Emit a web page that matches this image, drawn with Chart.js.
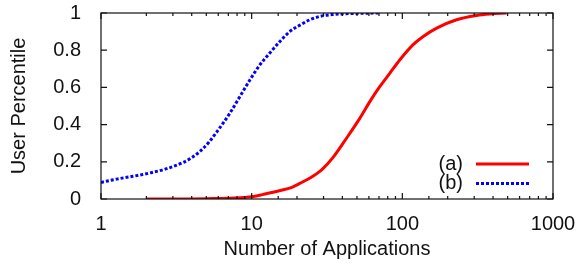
<!DOCTYPE html>
<html lang="en">
<head>
  <meta charset="UTF-8" />
  <title>User Percentile vs Number of Applications</title>
  <script src="https://cdn.jsdelivr.net/npm/chart.js"></script>
  <style>
    html, body {
      margin: 0;
      padding: 0;
      background: #ffffff;
    }
    #wrap {
      width: 579px;
      height: 265px;
    }
  </style>
</head>
<body>
  <div id="wrap"><canvas id="cdfChart"></canvas></div>

  <script>
    // (a) red solid
    const appsA = [2, 5, 8.4, 10.25, 12, 13.9, 16, 18.5, 21, 24.4, 29, 34.8, 42.7, 52.3, 61, 71, 82.7, 96.4, 118, 137.6, 169, 229, 311, 381, 492];
    const pctA  = [0, 0.002, 0.007, 0.014, 0.025, 0.036, 0.048, 0.063, 0.085, 0.113, 0.155, 0.225, 0.328, 0.435, 0.525, 0.605, 0.677, 0.749, 0.83, 0.874, 0.919, 0.964, 0.987, 0.995, 1.0];

    // (b) blue dotted
    const appsB = [1, 1.27, 1.63, 2.11, 2.73, 3.52, 4.0, 4.54, 5.2, 5.86, 7.18, 8.37, 9.75, 11.35, 13.2, 15.4, 17.95, 20.9, 24.4, 28.4, 34.8, 44.9, 71];
    const pctB  = [0.089, 0.107, 0.122, 0.14, 0.163, 0.197, 0.222, 0.256, 0.305, 0.36, 0.462, 0.552, 0.641, 0.722, 0.785, 0.847, 0.901, 0.935, 0.964, 0.982, 0.992, 0.997, 1.0];

    const xMajor = [1, 10, 100, 1000];
    const yTicks = [0, 0.2, 0.4, 0.6, 0.8, 1];

    const font = { family: "'Liberation Sans', Arial, sans-serif", size: 20 };
    const ink = '#111';

    const toPoints = (xs, ys) => xs.map((x, i) => ({ x: x, y: ys[i] }));

    // gnuplot-ish frame: border, inward ticks on all four sides, key inside
    const framePlugin = {
      id: 'frame',
      afterDatasetsDraw(chart) {
        const { ctx, chartArea: a, scales } = chart;
        const xs = scales.x, ys = scales.y;
        ctx.save();
        ctx.strokeStyle = ink;
        ctx.lineWidth = 1.2;
        ctx.strokeRect(a.left, a.top, a.right - a.left, a.bottom - a.top);

        ctx.beginPath();
        xs.ticks.forEach(t => {
          const px = xs.getPixelForValue(t.value);
          const len = xMajor.includes(t.value) ? 6 : 3;
          ctx.moveTo(px, a.bottom); ctx.lineTo(px, a.bottom - len);
          ctx.moveTo(px, a.top); ctx.lineTo(px, a.top + len);
        });
        yTicks.forEach(v => {
          const py = ys.getPixelForValue(v);
          ctx.moveTo(a.left, py); ctx.lineTo(a.left + 6, py);
          ctx.moveTo(a.right, py); ctx.lineTo(a.right - 6, py);
        });
        ctx.stroke();

        // key
        ctx.font = `${font.size}px ${font.family}`;
        ctx.fillStyle = ink;
        ctx.textAlign = 'right';
        ctx.textBaseline = 'middle';
        chart.data.datasets.forEach((ds, i) => {
          const y = a.bottom - 35 + i * 19.5;
          ctx.fillText(ds.label, a.right - 90, y);
          ctx.beginPath();
          ctx.strokeStyle = ds.borderColor;
          ctx.lineWidth = ds.borderWidth;
          ctx.setLineDash(ds.borderDash || []);
          ctx.moveTo(a.right - 77, y);
          ctx.lineTo(a.right - 24, y);
          ctx.stroke();
        });
        ctx.restore();
      }
    };

    const ctx = document.getElementById('cdfChart').getContext('2d');
    new Chart(ctx, {
      type: 'line',
      data: {
        datasets: [
          {
            label: '(a)',
            data: toPoints(appsA, pctA),
            borderColor: '#ff0000',
            borderWidth: 3,
            pointRadius: 0,
            cubicInterpolationMode: 'monotone',
            fill: false
          },
          {
            label: '(b)',
            data: toPoints(appsB, pctB),
            borderColor: '#0000ff',
            borderWidth: 3,
            borderDash: [3, 2],
            pointRadius: 0,
            cubicInterpolationMode: 'monotone',
            fill: false
          }
        ]
      },
      options: {
        responsive: true,
        maintainAspectRatio: false,
        animation: false,
        layout: { padding: { top: 13, right: 26, left: 0, bottom: 0 } },
        plugins: {
          legend: { display: false },
          tooltip: { enabled: false }
        },
        scales: {
          x: {
            type: 'logarithmic',
            min: 1,
            max: 1000,
            grid: { display: false },
            border: { display: false },
            ticks: {
              color: ink,
              font: font,
              padding: 5,
              maxRotation: 0,
              autoSkip: false,
              callback: v => xMajor.includes(v) ? String(v) : ''
            },
            title: {
              display: true,
              text: 'Number of Applications',
              color: ink,
              font: font,
              padding: { top: 4, bottom: 4 }
            },
            afterFit: s => {
              s.height = 66;
              s.paddingLeft = 0;
              s.paddingRight = 0;
            }
          },
          y: {
            min: 0,
            max: 1,
            grid: { display: false },
            border: { display: false },
            afterBuildTicks: s => { s.ticks = yTicks.map(v => ({ value: v })); },
            ticks: {
              color: ink,
              font: font,
              padding: 12,
              callback: v => String(+v.toFixed(1))
            },
            title: {
              display: true,
              text: 'User Percentile',
              color: ink,
              font: font,
              padding: { top: 7, bottom: 4 }
            },
            afterFit: s => {
              s.width = 101;
              s.paddingTop = 0;
              s.paddingBottom = 0;
            }
          }
        }
      },
      plugins: [framePlugin]
    });
  </script>
</body>
</html>
